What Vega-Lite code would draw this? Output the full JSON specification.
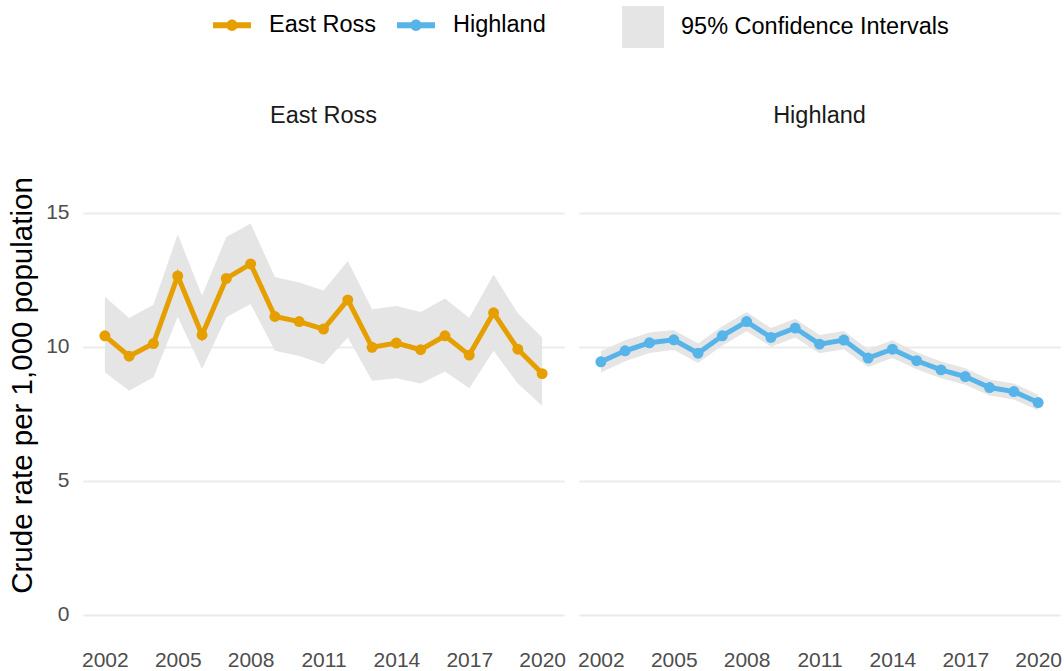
{
  "$schema": "https://vega.github.io/schema/vega-lite/v6.json",
  "padding": {"left": 7, "top": 6, "right": 2, "bottom": 0},
  "data": {"values": [
    {"area":"East Ross","year":2002,"rate":10.41,"lower":9.05,"upper":11.87},
    {"area":"East Ross","year":2003,"rate":9.65,"lower":8.36,"upper":11.07},
    {"area":"East Ross","year":2004,"rate":10.12,"lower":8.86,"upper":11.57},
    {"area":"East Ross","year":2005,"rate":12.64,"lower":11.12,"upper":14.2},
    {"area":"East Ross","year":2006,"rate":10.44,"lower":9.17,"upper":11.9},
    {"area":"East Ross","year":2007,"rate":12.55,"lower":11.1,"upper":14.1},
    {"area":"East Ross","year":2008,"rate":13.09,"lower":11.6,"upper":14.6},
    {"area":"East Ross","year":2009,"rate":11.13,"lower":9.85,"upper":12.6},
    {"area":"East Ross","year":2010,"rate":10.94,"lower":9.66,"upper":12.4},
    {"area":"East Ross","year":2011,"rate":10.66,"lower":9.35,"upper":12.1},
    {"area":"East Ross","year":2012,"rate":11.75,"lower":10.35,"upper":13.2},
    {"area":"East Ross","year":2013,"rate":9.98,"lower":8.73,"upper":11.4},
    {"area":"East Ross","year":2014,"rate":10.14,"lower":8.83,"upper":11.52},
    {"area":"East Ross","year":2015,"rate":9.89,"lower":8.63,"upper":11.3},
    {"area":"East Ross","year":2016,"rate":10.41,"lower":9.08,"upper":11.8},
    {"area":"East Ross","year":2017,"rate":9.69,"lower":8.45,"upper":11.07},
    {"area":"East Ross","year":2018,"rate":11.27,"lower":9.85,"upper":12.7},
    {"area":"East Ross","year":2019,"rate":9.91,"lower":8.63,"upper":11.25},
    {"area":"East Ross","year":2020,"rate":9.0,"lower":7.8,"upper":10.35},
    {"area":"Highland","year":2002,"rate":9.44,"lower":9.04,"upper":9.84},
    {"area":"Highland","year":2003,"rate":9.85,"lower":9.46,"upper":10.24},
    {"area":"Highland","year":2004,"rate":10.15,"lower":9.77,"upper":10.53},
    {"area":"Highland","year":2005,"rate":10.26,"lower":9.89,"upper":10.63},
    {"area":"Highland","year":2006,"rate":9.76,"lower":9.4,"upper":10.12},
    {"area":"Highland","year":2007,"rate":10.41,"lower":10.05,"upper":10.77},
    {"area":"Highland","year":2008,"rate":10.94,"lower":10.58,"upper":11.3},
    {"area":"Highland","year":2009,"rate":10.35,"lower":10.0,"upper":10.7},
    {"area":"Highland","year":2010,"rate":10.7,"lower":10.35,"upper":11.05},
    {"area":"Highland","year":2011,"rate":10.1,"lower":9.76,"upper":10.44},
    {"area":"Highland","year":2012,"rate":10.25,"lower":9.91,"upper":10.59},
    {"area":"Highland","year":2013,"rate":9.58,"lower":9.25,"upper":9.91},
    {"area":"Highland","year":2014,"rate":9.91,"lower":9.58,"upper":10.24},
    {"area":"Highland","year":2015,"rate":9.48,"lower":9.16,"upper":9.8},
    {"area":"Highland","year":2016,"rate":9.14,"lower":8.83,"upper":9.45},
    {"area":"Highland","year":2017,"rate":8.89,"lower":8.58,"upper":9.2},
    {"area":"Highland","year":2018,"rate":8.48,"lower":8.18,"upper":8.78},
    {"area":"Highland","year":2019,"rate":8.33,"lower":8.03,"upper":8.63},
    {"area":"Highland","year":2020,"rate":7.92,"lower":7.63,"upper":8.21}
  ]},
  "facet": {"column": {"field": "area", "type": "nominal", "header": {"title": null, "labelFontSize": 23.5, "labelColor": "#1A1A1A", "labelPadding": 8}}},
  "spacing": 15,
  "spec": {
    "width": 481,
    "height": 500,
    "layer": [
      {
        "mark": {"type": "area", "opacity": 1},
        "encoding": {
          "x": {"field": "year", "type": "quantitative", "scale": {"domain": [2001.1, 2020.9], "nice": false, "zero": false},
                "axis": {"values": [2002, 2005, 2008, 2011, 2014, 2017, 2020], "format": "d", "title": null, "grid": false, "domain": false, "ticks": false, "labelFontSize": 21, "labelColor": "#4D4D4D", "labelPadding": 14}},
          "y": {"field": "lower", "type": "quantitative", "scale": {"domain": [-0.75, 17.9], "nice": false, "zero": false},
                "axis": {"values": [0, 5, 10, 15], "title": "Crude rate per 1,000 population", "titleFontSize": 29.5, "titleFontWeight": "normal", "titleColor": "black", "labelFontSize": 21, "labelColor": "#4D4D4D", "labelPadding": 14, "grid": true, "gridColor": "#EBEBEB", "gridWidth": 2, "domain": false, "ticks": false, "titlePadding": 8}},
          "y2": {"field": "upper"},
          "fill": {"datum": "95% Confidence Intervals", "type": "nominal", "scale": {"range": ["#E5E5E5"]},
                   "legend": {"orient": "none", "legendX": 539, "legendY": -129, "title": null, "symbolType": "square", "symbolSize": 1764, "symbolStrokeWidth": 0, "symbolOpacity": 1, "labelOffset": 17, "labelFontSize": 23.5, "labelColor": "black", "labelLimit": 500}}
        }
      },
      {
        "mark": {"type": "line", "strokeWidth": 5},
        "encoding": {
          "x": {"field": "year", "type": "quantitative"},
          "y": {"field": "rate", "type": "quantitative", "title": "Crude rate per 1,000 population"},
          "color": {"field": "area", "type": "nominal", "scale": {"domain": ["East Ross", "Highland"], "range": ["#E69F00", "#56B4E9"]},
                    "legend": {"orient": "none", "legendX": 130, "legendY": -129, "direction": "horizontal", "title": null,
                               "symbolType": "M -1 -0.16 L 1 -0.16 L 1 0.16 L -1 0.16 Z M -0.3 0 A 0.3 0.3 0 1 1 0.3 0 A 0.3 0.3 0 1 1 -0.3 0 Z",
                               "symbolSize": 1444, "symbolStrokeWidth": 0, "symbolOpacity": 1, "labelOffset": 18, "columnPadding": 20, "labelFontSize": 23.5, "labelColor": "black", "labelLimit": 500,
                               "encode": {"symbols": {"update": {"fill": {"scale": "color", "field": "value"}, "stroke": {"value": "transparent"}}}}}}
        }
      },
      {
        "mark": {"type": "point", "filled": true, "size": 120, "opacity": 1},
        "encoding": {
          "x": {"field": "year", "type": "quantitative"},
          "y": {"field": "rate", "type": "quantitative", "title": "Crude rate per 1,000 population"},
          "color": {"field": "area", "type": "nominal"}
        }
      }
    ]
  },
  "config": {
    "font": "Liberation Sans",
    "view": {"stroke": null}
  }
}
